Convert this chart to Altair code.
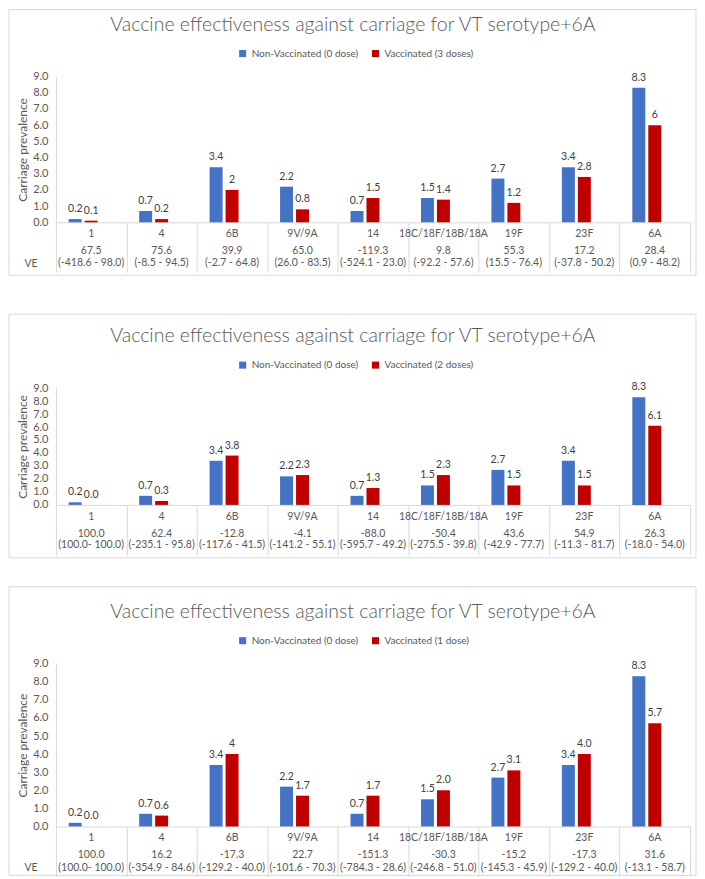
import altair as alt
import pandas as pd

categories = ["1", "4", "6B", "9V/9A", "14", "18C/18F/18B/18A", "19F", "23F", "6A"]

nonvac_name = "Non-Vaccinated (0 dose)"
nonvac_values = [0.2, 0.7, 3.4, 2.2, 0.7, 1.5, 2.7, 3.4, 8.3]
nonvac_labels = ["0.2", "0.7", "3.4", "2.2", "0.7", "1.5", "2.7", "3.4", "8.3"]

vac3_name = "Vaccinated (3 doses)"
vac3_values = [0.1, 0.2, 2.0, 0.8, 1.5, 1.4, 1.2, 2.8, 6.0]
vac3_labels = ["0.1", "0.2", "2", "0.8", "1.5", "1.4", "1.2", "2.8", "6"]
ve3 = ["67.5", "75.6", "39.9", "65.0", "-119.3", "9.8", "55.3", "17.2", "28.4"]
ci3 = ["(-418.6 - 98.0)", "(-8.5 - 94.5)", "(-2.7 - 64.8)", "(26.0 - 83.5)", "(-524.1 - 23.0)",
       "(-92.2 - 57.6)", "(15.5 - 76.4)", "(-37.8 - 50.2)", "(0.9 - 48.2)"]

vac2_name = "Vaccinated (2 doses)"
vac2_values = [0.0, 0.3, 3.8, 2.3, 1.3, 2.3, 1.5, 1.5, 6.1]
vac2_labels = ["0.0", "0.3", "3.8", "2.3", "1.3", "2.3", "1.5", "1.5", "6.1"]
ve2 = ["100.0", "62.4", "-12.8", "-4.1", "-88.0", "-50.4", "43.6", "54.9", "26.3"]
ci2 = ["(100.0- 100.0)", "(-235.1 - 95.8)", "(-117.6 - 41.5)", "(-141.2 - 55.1)", "(-595.7 - 49.2)",
       "(-275.5 - 39.8)", "(-42.9 - 77.7)", "(-11.3 - 81.7)", "(-18.0 - 54.0)"]

vac1_name = "Vaccinated (1 dose)"
vac1_values = [0.0, 0.6, 4.0, 1.7, 1.7, 2.0, 3.1, 4.0, 5.7]
vac1_labels = ["0.0", "0.6", "4", "1.7", "1.7", "2.0", "3.1", "4.0", "5.7"]
ve1 = ["100.0", "16.2", "-17.3", "22.7", "-151.3", "-30.3", "-15.2", "-17.3", "31.6"]
ci1 = ["(100.0- 100.0)", "(-354.9 - 84.6)", "(-129.2 - 40.0)", "(-101.6 - 70.3)", "(-784.3 - 28.6)",
       "(-246.8 - 51.0)", "(-145.3 - 45.9)", "(-129.2 - 40.0)", "(-13.1 - 58.7)"]

y_ticks = [0, 1, 2, 3, 4, 5, 6, 7, 8, 9]

title_text = "Vaccine effectiveness against carriage for VT serotype+6A"
y_title = "Carriage prevalence"
ve_title = "VE"

BLUE = "#4472c4"
RED = "#c00000"
GRID = "#d9d9d9"
TXT = "#595959"
FONT = "Lato"
W = 635


def panel(vac_name, vac_vals, vac_labels, ve, ci, h, top, bottom, show_ve,
          spacer_top=None, ve_lh=11.5):
    rows = []
    for i, c in enumerate(categories):
        rows.append(dict(cat=c, series=nonvac_name, value=nonvac_values[i], label=nonvac_labels[i]))
        rows.append(dict(cat=c, series=vac_name, value=vac_vals[i], label=vac_labels[i]))
    df = pd.DataFrame(rows)
    cat_df = pd.DataFrame({"cat": categories,
                           "ve": [f"{v}\n{c}" for v, c in zip(ve, ci)]})
    order = [nonvac_name, vac_name]
    # Excel layout reserves a third (empty) slot per category, so the pair sits left of centre
    slots = [nonvac_name, vac_name, "(empty slot)"]

    x_main = alt.X("cat:N", sort=categories,
                   scale=alt.Scale(paddingInner=0, paddingOuter=0),
                   axis=alt.Axis(title=None, labels=False, domainColor=GRID,
                                 tickColor=GRID, tickSize=50, tickBand="extent"))
    y_main = alt.Y("value:Q", scale=alt.Scale(domain=[0, 9]),
                   axis=alt.Axis(values=y_ticks, format=".1f", grid=False,
                                 ticks=False, domainColor=GRID, labelFontSize=11,
                                 labelColor=TXT, labelFont=FONT, labelPadding=8,
                                 labelOverlap=False, labelFlush=False, labelBound=False,
                                 title=y_title, titleFontSize=12, titleFontWeight="normal",
                                 titleColor=TXT, titleFont=FONT, titlePadding=3))
    color = alt.Color("series:N", sort=order,
                      scale=alt.Scale(domain=order, range=[BLUE, RED]),
                      legend=alt.Legend(title=None, orient="none", legendX=182, legendY=-28,
                                        direction="horizontal", symbolType="square",
                                        symbolSize=50, symbolStrokeWidth=0,
                                        labelFontSize=10, labelColor=TXT, labelFont=FONT,
                                        columnPadding=12))
    xoff = alt.XOffset("series:N", sort=order,
                       scale=alt.Scale(domain=slots, paddingInner=0.1875, paddingOuter=0.8))

    one = pd.DataFrame({"t": [title_text]})

    border = alt.Chart(one).mark_rect(fill="white", fillOpacity=0, stroke=GRID, strokeWidth=1).encode(
        x=alt.value(-47), x2=alt.value(W + 6), y=alt.value(-top), y2=alt.value(h + bottom))
    layers = [border]
    if spacer_top is not None:
        spacer = alt.Chart(one).mark_rect(opacity=0).encode(
            x=alt.value(0), x2=alt.value(10), y=alt.value(-spacer_top), y2=alt.value(-top))
        layers.append(spacer)

    base = alt.Chart(df)
    bars = base.mark_bar().encode(x=x_main, xOffset=xoff, y=y_main, color=color)
    labels = base.mark_text(baseline="bottom", dy=-5, fontSize=10.5, color="#404040", font=FONT).encode(
        x=x_main, xOffset=xoff, y=y_main, text="label:N")

    cat_text = alt.Chart(cat_df).mark_text(fontSize=10.5, color=TXT, font=FONT, baseline="middle").encode(
        x=x_main, y=alt.value(h + 12), text="cat:N")
    ve_text = alt.Chart(cat_df).mark_text(fontSize=10.5, color=TXT, font=FONT, baseline="top",
                                          lineBreak="\n", lineHeight=ve_lh).encode(
        x=x_main, y=alt.value(h + 24), text="ve:N")
    title = alt.Chart(one).mark_text(fontSize=19.5, fontWeight=300, color=TXT, font=FONT,
                                     baseline="middle").encode(
        x=alt.value(W / 2 - 20), y=alt.value(-52), text="t:N")
    layers += [bars, labels, cat_text, ve_text, title]
    if show_ve:
        ve_lab = alt.Chart(pd.DataFrame({"t": [ve_title]})).mark_text(
            fontSize=10.5, color=TXT, font=FONT, baseline="middle").encode(
            x=alt.value(-25), y=alt.value(h + 42), text="t:N")
        layers.append(ve_lab)
    return alt.layer(*layers).properties(width=W, height=h)


p1 = panel(vac3_name, vac3_values, vac3_labels, ve3, ci3, h=146, top=67, bottom=53, show_ve=True)
p2 = panel(vac2_name, vac2_values, vac2_labels, ve2, ci2, h=117, top=74, bottom=53, show_ve=False,
           spacer_top=85)
p3 = panel(vac1_name, vac1_values, vac1_labels, ve1, ci1, h=163, top=77, bottom=49, show_ve=True,
           ve_lh=12.5)

chart = alt.vconcat(p1, p2, p3, spacing=27).resolve_scale(
    color="independent", xOffset="independent").properties(
    padding=0, background="white").configure_view(strokeWidth=0)

chart.save("out.html", embed_options={"renderer": "svg", "actions": False})
